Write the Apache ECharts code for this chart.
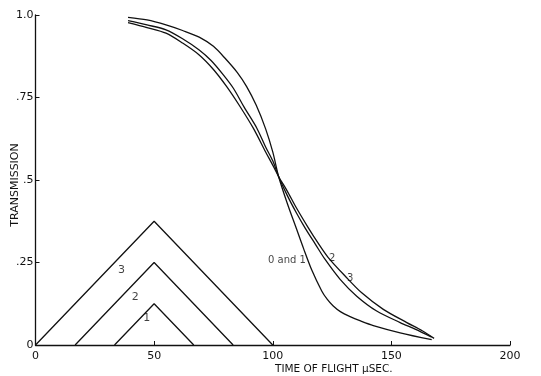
<!DOCTYPE html>
<html><head><meta charset="utf-8">
<script src="https://cdn.jsdelivr.net/npm/echarts@6/dist/echarts.min.js"></script>
<style>html,body{margin:0;padding:0;background:#fff}#c{width:541px;height:376px}</style>
</head><body><div id="c"></div>
<script>
// Transmission curves (time of flight in microseconds, transmission)
const curve01 = [[39,0.993],[47,0.985],[55,0.970],[62,0.953],[69,0.933],[75,0.905],[80,0.868],[85,0.826],[89,0.783],[93,0.727],[97,0.655],[100,0.585],[102.5,0.51],[106,0.432],[110,0.352],[113,0.292],[116.4,0.228],[120.7,0.163],[123,0.138],[125.5,0.118],[128.5,0.101],[132.6,0.086],[137,0.073],[142.4,0.059],[153.7,0.037],[167,0.016]];
const curve2 = [[39,0.983],[47,0.97],[55,0.955],[62,0.928],[69,0.894],[74,0.862],[79,0.82],[83.4,0.778],[88,0.72],[93.3,0.657],[97,0.6],[100,0.558],[102.5,0.51],[106,0.455],[110,0.4],[113.6,0.355],[118,0.305],[122,0.26],[128.4,0.199],[135.4,0.148],[143.8,0.103],[153.7,0.068],[160,0.048],[167,0.024]];
const curve3 = [[39,0.977],[47,0.962],[55,0.945],[62,0.915],[69,0.879],[75,0.835],[80.6,0.783],[86,0.725],[91.8,0.657],[97,0.585],[100,0.545],[102.5,0.51],[106,0.468],[110,0.415],[115,0.355],[119,0.31],[123.4,0.265],[130.5,0.209],[137.5,0.158],[146.6,0.108],[156.5,0.068],[163,0.043],[168,0.02]];
// Resolution triangles
const tri1 = [[33.3,0],[50,0.125],[66.7,0]];
const tri2 = [[16.7,0],[50,0.25],[83.3,0]];
const tri3 = [[0,0],[50,0.375],[100,0]];
// Annotations
const curveLabels = [[106,0.256,'0 and 1'],[125,0.263,'2'],[132.6,0.203,'3']];
const triLabels = [[36.3,0.227,'3'],[42,0.146,'2'],[46.9,0.081,'1']];
const xTicks = [0,50,100,150,200];
const yTickValues = [0,0.25,0.5,0.75,1];
const yTickText = ['0','.25','.5','.75','1.0'];
const xTitle = 'TIME OF FLIGHT \u03BCSEC.';
const yTitle = 'TRANSMISSION';

const ink = '#111';
const font = 'DejaVu Sans';
const chart = echarts.init(document.getElementById('c'));
function lineSeries(data, smooth){
  return {type:'line', data:data, smooth:smooth, showSymbol:false, symbol:'none',
    lineStyle:{color:ink, width:1.3}, silent:true, animation:false};
}
function labelSeries(data, size){
  return {type:'scatter', symbolSize:0, animation:false, silent:true,
    data:data.map(d=>({value:[d[0],d[1]], name:d[2]})),
    label:{show:true, position:'inside', formatter:p=>p.name, color:ink, fontFamily:font, fontSize:size}};
}
chart.setOption({
  backgroundColor:'#fff',
  animation:false,
  grid:{left:35.5, right:31, top:15, bottom:31, containLabel:false, outerBoundsMode:'none'},
  xAxis:{type:'value', min:xTicks[0], max:xTicks[xTicks.length-1], interval:50,
    axisLine:{show:true, lineStyle:{color:ink, width:1.3}},
    axisTick:{show:true, inside:true, length:4, lineStyle:{color:ink}},
    splitLine:{show:false},
    axisLabel:{color:ink, fontFamily:font, fontSize:11, margin:6}},
  yAxis:{type:'value', min:0, max:1, interval:0.25,
    axisLine:{show:true, lineStyle:{color:ink, width:1.3}},
    axisTick:{show:true, inside:true, length:4, lineStyle:{color:ink}},
    splitLine:{show:false},
    axisLabel:{color:ink, fontFamily:font, fontSize:11, margin:2,
      formatter:v=>{const i=yTickValues.findIndex(t=>Math.abs(t-v)<1e-9); return i>=0?yTickText[i]:'';}}},
  graphic:[
    {type:'text', left:275, top:364, style:{text:xTitle, fill:ink, font:'10.5px "DejaVu Sans"'}},
    {type:'text', x:15, y:185, rotation:Math.PI/2, style:{text:yTitle, fill:ink, font:'11px "DejaVu Sans"', align:'center', verticalAlign:'middle'}}
  ],
  series:[
    lineSeries(curve01, 0.3), lineSeries(curve2, 0.3), lineSeries(curve3, 0.3),
    lineSeries(tri1, false), lineSeries(tri2, false), lineSeries(tri3, false),
    labelSeries(curveLabels, 10), labelSeries(triLabels, 11)
  ]
});
</script></body></html>
